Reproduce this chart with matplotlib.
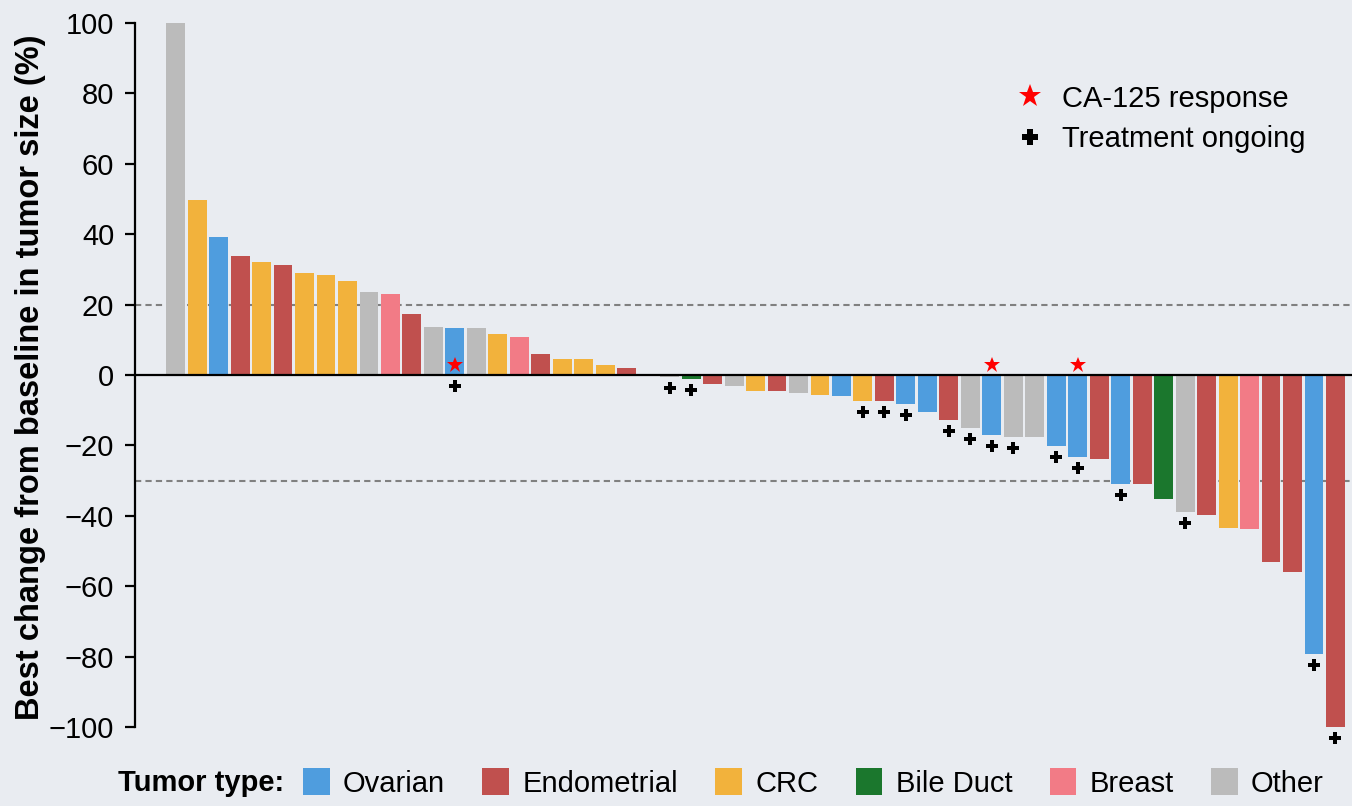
import matplotlib
matplotlib.use("Agg")
import matplotlib.pyplot as plt
from matplotlib.patches import Patch
from matplotlib.lines import Line2D

plt.rcParams['font.family'] = ['Liberation Sans', 'DejaVu Sans']

# best change from baseline (%), one bar per patient, sorted
change = [100, 49.7, 39.2, 33.8, 32.1, 31.2, 29.0, 28.4, 26.7, 23.6,
          23.0, 17.3, 13.6, 13.4, 13.4, 11.6, 10.8, 6.0, 4.5, 4.5,
          2.8, 2.0, 0.0, -0.6, -1.1, -2.6, -3.1, -4.5, -4.5, -5.1,
          -5.7, -6.0, -7.4, -7.4, -8.2, -10.5, -12.8, -15.1, -17.0, -17.6,
          -17.6, -20.2, -23.3, -23.9, -31.0, -31.0, -35.2, -38.9, -39.8, -43.5,
          -43.8, -53.1, -56.0, -79.3, -100]
tumor = ['Other', 'CRC', 'Ovarian', 'Endometrial', 'CRC', 'Endometrial', 'CRC', 'CRC', 'CRC', 'Other',
         'Breast', 'Endometrial', 'Other', 'Ovarian', 'Other', 'CRC', 'Breast', 'Endometrial', 'CRC', 'CRC',
         'CRC', 'Endometrial', 'Other', 'Other', 'Bile Duct', 'Endometrial', 'Other', 'CRC', 'Endometrial', 'Other',
         'CRC', 'Ovarian', 'CRC', 'Endometrial', 'Ovarian', 'Ovarian', 'Endometrial', 'Other', 'Ovarian', 'Other',
         'Other', 'Ovarian', 'Ovarian', 'Endometrial', 'Ovarian', 'Endometrial', 'Bile Duct', 'Other', 'Endometrial', 'CRC',
         'Breast', 'Endometrial', 'Endometrial', 'Ovarian', 'Endometrial']
# 1-based patient positions
ongoing = [14, 24, 25, 33, 34, 35, 37, 38, 39, 40, 42, 43, 45, 48, 54, 55]
ca125 = [14, 39, 43]

types = ['Ovarian', 'Endometrial', 'CRC', 'Bile Duct', 'Breast', 'Other']
colors = {'Ovarian': '#4F9DDE', 'Endometrial': '#C0504E', 'CRC': '#F2B23C',
          'Bile Duct': '#1B772D', 'Breast': '#F27B86', 'Other': '#BBBBBB'}
bg = '#E9ECF1'
fs = 21

fig = plt.figure(figsize=(13.52, 8.06), dpi=100, facecolor=bg)
ax = fig.add_axes([0.0999, 0.098, 0.9001, 0.8735])
ax.set_facecolor(bg)

x = list(range(len(change)))
ax.bar(x, change, width=0.88, color=[colors[t] for t in tumor], zorder=2)

ax.axhline(0, color='black', lw=1.6, zorder=3)
ax.axhline(20, color='grey', ls='--', dashes=(3, 2), lw=1.5, zorder=1)
ax.axhline(-30, color='grey', ls='--', dashes=(3, 2), lw=1.5, zorder=1)

ox = [i - 1 for i in ongoing]
oy = [min(change[i], 0) - 3.2 for i in ox]
ax.plot(ox, oy, 'P', color='black', ms=8.5, mew=0, ls='none', clip_on=False, zorder=4)
sx = [i - 1 for i in ca125]
ax.plot(sx, [2.7] * len(sx), '*', color='red', ms=12, mew=0, ls='none', zorder=4)

ax.set_xlim(-1.89, 54.77)
ax.set_ylim(-100, 100)
ax.set_xticks([])
ax.set_yticks(range(-100, 101, 20))
ax.tick_params(axis='y', labelsize=fs, length=7, width=1.6, direction='out', pad=8)
for s in ['top', 'right', 'bottom']:
    ax.spines[s].set_visible(False)
ax.spines['left'].set_linewidth(1.6)
ax.set_ylabel('Best change from baseline in tumor size (%)', fontsize=23.5, fontweight='bold')
ax.yaxis.set_label_coords(-0.0735, 0.497)

mark_handles = [Line2D([], [], marker='*', color='red', ls='none', ms=17, mew=0),
                Line2D([], [], marker='P', color='black', ls='none', ms=11, mew=0)]
fig.legend(mark_handles, ['CA-125 response', 'Treatment ongoing'], loc='center left',
           bbox_to_anchor=(0.7511, 0.8525), frameon=False, fontsize=fs,
           handlelength=1.0, handletextpad=0.6, labelspacing=0.43, borderpad=0, borderaxespad=0)

fig.text(0.0873, 0.0285, 'Tumor type:', fontsize=fs, fontweight='bold', va='center', ha='left')
type_handles = [Patch(facecolor=colors[t]) for t in types]
fig.legend(type_handles, types, loc='center left', bbox_to_anchor=(0.2241, 0.0285), ncol=6,
           frameon=False, fontsize=fs, handlelength=0.92, handleheight=1.03, handletextpad=0.45,
           columnspacing=1.28, borderpad=0, borderaxespad=0)

fig.savefig('out.png', dpi=100, facecolor=bg)
